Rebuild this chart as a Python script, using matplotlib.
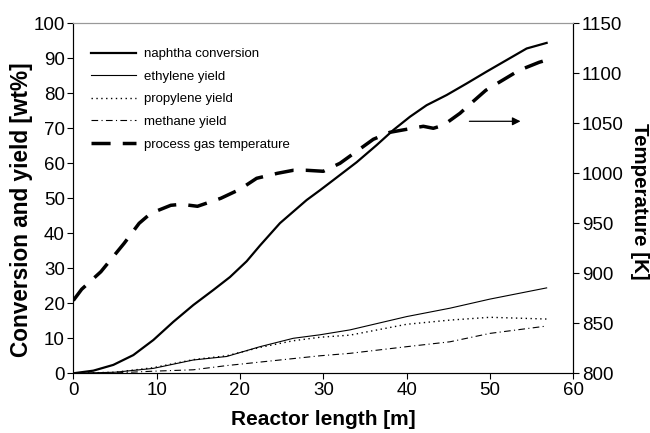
import matplotlib
matplotlib.use("Agg")
import matplotlib.pyplot as plt

plt.rcParams['font.family'] = ['Liberation Sans', 'DejaVu Sans']

# naphtha conversion [wt%]
x_naphtha = [0, 2.4, 4.8, 7.2, 9.6, 12, 14.4, 16.8, 18.8, 20.8, 22.4, 24.8, 28, 29.6, 31.2,
             34, 36.4, 38.4, 40.4, 42.4, 44.8, 47.2, 49.6, 52, 54.4, 56.8]
naphtha = [0, 0.75, 2.4, 5.2, 9.5, 14.7, 19.5, 23.8, 27.5, 32, 36.5, 42.9, 49.5, 52.3, 55.2,
           60.3, 65.2, 69.5, 73.3, 76.6, 79.5, 82.8, 86.2, 89.5, 92.8, 94.4]

# yields [wt%]
x_yield = [0, 5, 9.6, 14.4, 18.4, 22.4, 26.4, 29.6, 33.2, 40, 45.2, 50, 56.8]
ethylene = [0, 0.3, 1.4, 3.8, 4.8, 7.6, 10, 11, 12.4, 16.2, 18.6, 21.2, 24.4]
propylene = [0, 0.3, 1.6, 3.9, 5.0, 7.4, 9.3, 10.3, 10.9, 14.0, 15.2, 16.0, 15.5]
methane = [0, 0.1, 0.6, 1.0, 2.2, 3.2, 4.2, 5.0, 5.7, 7.6, 9.0, 11.4, 13.5]

# process gas temperature [K]
x_temp = [0, 1, 3.3, 6.1, 7.9, 9.3, 11.7, 13, 14.9, 17.7, 20, 22, 24.5, 26.4, 28, 30,
          32, 34, 36, 38, 40, 42, 43.2, 44.4, 46.4, 48, 49.5, 51.5, 53.5, 55.9, 56.7]
temp = [872.8, 884, 901.5, 930, 950, 960, 968, 969, 967, 975, 984, 995, 1000, 1003, 1003, 1002,
        1010, 1022, 1034, 1041, 1044, 1047, 1045, 1048, 1060, 1072, 1083, 1093, 1103, 1111, 1113]

fig = plt.figure(figsize=(6.5, 4.33), dpi=100)
ax = fig.add_axes([0.1128, 0.1379, 0.7692, 0.8083])
ax2 = ax.twinx()

l1, = ax.plot(x_naphtha, naphtha, color='black', lw=1.6, label='naphtha conversion')
l2, = ax.plot(x_yield, ethylene, color='black', lw=0.8, label='ethylene yield')
l3, = ax.plot(x_yield, propylene, color='black', lw=1.0, ls=(0, (1, 2.5)), label='propylene yield')
l4, = ax.plot(x_yield, methane, color='black', lw=0.8, ls=(0, (6, 3, 1, 3)), label='methane yield')
l5, = ax2.plot(x_temp, temp, color='black', lw=2.5, ls=(0, (5.5, 3.5)), label='process gas temperature')

ax.set_xlim(0, 60)
ax.set_ylim(0, 100)
ax2.set_ylim(800, 1150)
ax.set_xticks(range(0, 61, 10))
ax.set_yticks(range(0, 101, 10))
ax2.set_yticks(range(800, 1151, 50))

for a in (ax, ax2):
    a.tick_params(labelsize=13.5, direction='out', length=4, width=0.8, colors='black', pad=2)
    a.spines['top'].set_color('#999999')
    a.spines['top'].set_linewidth(0.8)
ax.spines['left'].set_color('#444444')
ax.spines['bottom'].set_color('#444444')
ax2.spines['right'].set_color('black')

ax.set_xlabel('Reactor length [m]', fontsize=15, fontweight='bold')
ax.set_ylabel('Conversion and yield [wt%]', fontsize=16.3, fontweight='bold', va='center')
ax2.set_ylabel('Temperature [K]', fontsize=14.8, fontweight='bold', rotation=-90, va='center')
ax.xaxis.set_label_coords(0.5, -0.105)
ax.yaxis.set_label_coords(-0.103, 0.468)
ax2.yaxis.set_label_coords(1.132, 0.49)

# arrow pointing to the right axis
arrow_start = (47.2, 72)
arrow_end = (54, 72)
ax.annotate('', xy=arrow_end, xytext=arrow_start,
            arrowprops=dict(arrowstyle='-|>', color='black', lw=0.9, mutation_scale=12))

ax.legend(handles=[l1, l2, l3, l4, l5], loc='upper left', frameon=False, fontsize=9.5,
          handlelength=3.4, handletextpad=0.6, labelspacing=0.78,
          bbox_to_anchor=(0.025, 0.944), borderaxespad=0)

fig.savefig('out.png', dpi=100)
